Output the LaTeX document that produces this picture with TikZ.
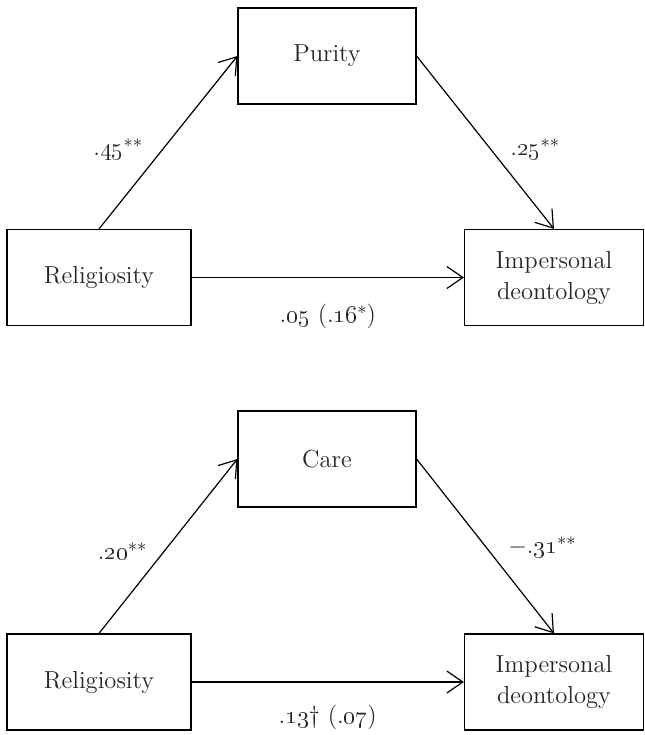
\documentclass[tikz,border=0pt]{standalone}
\usetikzlibrary{arrows.meta}

\begin{document}
\begin{tikzpicture}[x=0.5pt, y=-0.5pt, ->, >={Straight Barb[length=8pt,width=11pt]}, line width=0.6pt, font=\fontsize{12.3}{15.5}\selectfont]
  \tikzstyle{var}=[rectangle, draw, minimum width=89pt, minimum height=48pt, inner sep=0pt, align=center, text=black!85]
  \tikzstyle{coef}=[inner sep=2pt, text=black!85]
  \useasboundingbox (0,0) rectangle (644,735);

	% purity model
	\node[var, minimum width=92pt]  (Rel1) at (99,277.5) {Religiosity};
	\node[var]                      (Pur)  at (327,56)   {Purity};
	\node[var, minimum width=89.5pt] (Imp1) at (554,277.5) {Impersonal\\deontology};

	% care model
	\node[var, minimum width=92pt]  (Rel2) at (99,682)   {Religiosity};
	\node[var]                      (Care) at (327,459)  {Care};
	\node[var, minimum width=89.5pt] (Imp2) at (554,682) {Impersonal\\deontology};

	\path
		(Rel1.north) edge node[coef, pos=0.46, left=8pt] (a1) {.\oldstylenums{45}\raisebox{.12em}{\small**}} (Pur.west)
		(Pur.east) edge node[coef, pos=0.54, right=7.5pt] (b1) {.\oldstylenums{25}\raisebox{.12em}{\small**}} (Imp1.north)
		(Rel1.east) edge node[coef, pos=0.5, below=11pt] (c1) {.\oldstylenums{05} (.\oldstylenums{16}\raisebox{.12em}{\small*})} (Imp1.west)
		(Rel2.north) edge node[coef, pos=0.47, left=6.5pt] (a2) {.\oldstylenums{20}\raisebox{.12em}{\small**}} (Care.west)
		(Care.east) edge node[coef, pos=0.51, right=8.5pt] (b2) {$-$.\oldstylenums{31}\raisebox{.12em}{\small**}} (Imp2.north)
		(Rel2.east) edge node[coef, pos=0.5, below=9pt] (c2) {.\oldstylenums{13}\textdagger\ (.\oldstylenums{07})} (Imp2.west)
		;

\end{tikzpicture}
\end{document}
